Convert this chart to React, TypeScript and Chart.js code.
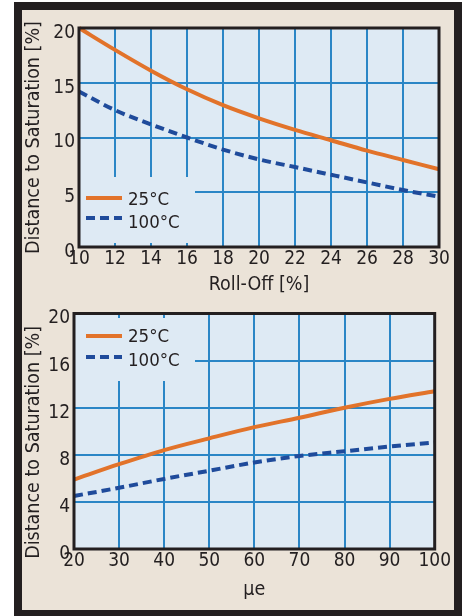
import React, { useEffect, useRef } from "react";
import { Chart, registerables } from "chart.js";

Chart.register(...registerables);

// ---- data ----
const rollOff = [10, 12, 14, 16, 18, 20, 22, 24, 26, 28, 30];
const roll25 = [20.0, 18.0, 16.1, 14.4, 12.95, 11.75, 10.7, 9.75, 8.8, 7.95, 7.1];
const roll100 = [14.2, 12.5, 11.2, 10.0, 8.9, 8.0, 7.3, 6.6, 5.9, 5.2, 4.6];

const mue = [20, 30, 40, 50, 60, 70, 80, 90, 100];
const mue25 = [5.9, 7.2, 8.4, 9.4, 10.35, 11.15, 12.0, 12.75, 13.4];
const mue100 = [4.5, 5.2, 5.95, 6.65, 7.35, 7.9, 8.3, 8.7, 9.05];

const seriesLabels = ["25°C", "100°C"];
const yTitle = "Distance to Saturation [%]";
const xTitleTop = "Roll-Off [%]";
const xTitleBottom = "μe";

// ---- styles ----
const FONT = "'DejaVu Sans Condensed', 'Liberation Sans Narrow', 'Liberation Sans', sans-serif";
const DARK = "#231f20";
const BEIGE = "#ebe3d8";
const PLOT_BG = "#deeaf4";
const GRID = "#2a86c6";
const ORANGE = "#e2732a";
const BLUE = "#1f4b9b";

type LegendSpec = {
  box: [number, number, number, number];
  lineX: [number, number];
  textX: number;
  lineY: number[];
  textY: number[];
};

function makePanelPlugin(spec: LegendSpec) {
  return {
    id: "panel",
    beforeDraw(chart: any) {
      const { ctx, chartArea: a } = chart;
      ctx.save();
      ctx.fillStyle = PLOT_BG;
      ctx.fillRect(a.left, a.top, a.right - a.left, a.bottom - a.top);
      ctx.restore();
    },
    beforeDatasetsDraw(chart: any) {
      const { ctx } = chart;
      ctx.save();
      ctx.fillStyle = PLOT_BG;
      const [x0, y0, x1, y1] = spec.box;
      ctx.fillRect(x0, y0, x1 - x0, y1 - y0);
      chart.data.datasets.forEach((ds: any, i: number) => {
        ctx.beginPath();
        ctx.strokeStyle = ds.borderColor;
        ctx.lineWidth = ds.borderWidth;
        ctx.lineCap = "butt";
        ctx.setLineDash(ds.borderDash || []);
        ctx.moveTo(spec.lineX[0], spec.lineY[i]);
        ctx.lineTo(spec.lineX[1], spec.lineY[i]);
        ctx.stroke();
        ctx.setLineDash([]);
        ctx.fillStyle = DARK;
        ctx.font = `18.5px ${FONT}`;
        ctx.textAlign = "left";
        ctx.textBaseline = "middle";
        ctx.fillText(ds.label, spec.textX, spec.textY[i]);
      });
      ctx.restore();
    },
    afterDraw(chart: any) {
      const { ctx, chartArea: a } = chart;
      ctx.save();
      ctx.strokeStyle = DARK;
      ctx.lineWidth = 3;
      ctx.strokeRect(a.left, a.top, a.right - a.left, a.bottom - a.top);
      ctx.restore();
    },
  };
}

type PanelProps = {
  xs: number[];
  s25: number[];
  s100: number[];
  xMin: number;
  xMax: number;
  xStep: number;
  yMax: number;
  yStep: number;
  xTitle: string;
  yTitleText: string;
  width: number;
  height: number;
  yAxisWidth: number;
  xAxisHeight: number;
  padTop: number;
  padRight: number;
  xTitlePad: number;
  legend: LegendSpec;
  style: React.CSSProperties;
};

function Panel(p: PanelProps) {
  const ref = useRef<HTMLCanvasElement | null>(null);
  useEffect(() => {
    if (!ref.current) return;
    const chart = new Chart(ref.current, {
      type: "line",
      data: {
        datasets: [
          {
            label: seriesLabels[0],
            data: p.xs.map((x, i) => ({ x, y: p.s25[i] })),
            borderColor: ORANGE,
            backgroundColor: "transparent",
            borderWidth: 4,
            pointRadius: 0,
            cubicInterpolationMode: "monotone",
            clip: false as any,
          },
          {
            label: seriesLabels[1],
            data: p.xs.map((x, i) => ({ x, y: p.s100[i] })),
            borderColor: BLUE,
            backgroundColor: "transparent",
            borderWidth: 4,
            borderDash: [9, 5],
            pointRadius: 0,
            cubicInterpolationMode: "monotone",
            clip: false as any,
          },
        ],
      },
      options: {
        responsive: false,
        animation: false,
        devicePixelRatio: 1,
        layout: { padding: { left: 0, top: p.padTop, right: p.padRight, bottom: 0 } },
        plugins: { legend: { display: false }, tooltip: { enabled: false } },
        scales: {
          x: {
            type: "linear",
            min: p.xMin,
            max: p.xMax,
            afterFit: (s: any) => {
              s.height = p.xAxisHeight;
            },
            ticks: {
              stepSize: p.xStep,
              padding: 3,
              color: DARK,
              maxRotation: 0,
              autoSkip: false,
              font: { family: FONT, size: 19, lineHeight: 1 },
            },
            grid: { color: GRID, lineWidth: 2, drawTicks: false },
            border: { display: false },
            title: {
              display: true,
              text: p.xTitle,
              color: DARK,
              font: { family: FONT, size: 19.5, lineHeight: 1 },
              padding: { top: 0, bottom: p.xTitlePad },
            },
          },
          y: {
            type: "linear",
            min: 0,
            max: p.yMax,
            afterFit: (s: any) => {
              s.width = p.yAxisWidth;
            },
            ticks: {
              stepSize: p.yStep,
              padding: 4,
              labelOffset: 5,
              color: DARK,
              font: { family: FONT, size: 19, lineHeight: 1 },
            },
            grid: { color: GRID, lineWidth: 2, drawTicks: false },
            border: { display: false },
            title: {
              display: true,
              text: p.yTitleText,
              color: DARK,
              font: { family: FONT, size: 19.5, lineHeight: 1 },
              padding: { top: 2, bottom: 0 },
            },
          },
        },
      },
      plugins: [makePanelPlugin(p.legend)],
    } as any);
    return () => chart.destroy();
  }, []);
  return <canvas ref={ref} width={p.width} height={p.height} style={{ position: "absolute", ...p.style }} />;
}

export default function App() {
  return (
    <div style={{ position: "absolute", left: 0, top: 0, width: 464, height: 616 }}>
      <div style={{ position: "absolute", left: 14, top: 2, width: 448, height: 614, background: DARK }} />
      <div style={{ position: "absolute", left: 22, top: 10, width: 432, height: 600, background: BEIGE }} />
      <Panel
        xs={rollOff}
        s25={roll25}
        s100={roll100}
        xMin={10}
        xMax={30}
        xStep={2}
        yMax={20}
        yStep={5}
        xTitle={xTitleTop}
        yTitleText={yTitle}
        width={432}
        height={290}
        yAxisWidth={57}
        xAxisHeight={53}
        padTop={18}
        padRight={15}
        xTitlePad={5}
        legend={{ box: [57, 167, 173, 233], lineX: [64, 100], textX: 106, lineY: [188, 208], textY: [190, 213] }}
        style={{ left: 22, top: 10 }}
      />
      <Panel
        xs={mue}
        s25={mue25}
        s100={mue100}
        xMin={20}
        xMax={100}
        xStep={10}
        yMax={20}
        yStep={4}
        xTitle={xTitleBottom}
        yTitleText={yTitle + "\u00a0\u00a0\u00a0\u00a0"}
        width={432}
        height={310}
        yAxisWidth={52}
        xAxisHeight={61}
        padTop={13}
        padRight={13}
        xTitlePad={10}
        legend={{ box: [52, 18, 173, 81], lineX: [64, 100], textX: 106, lineY: [36, 57], textY: [37, 61] }}
        style={{ left: 22, top: 300 }}
      />
    </div>
  );
}
